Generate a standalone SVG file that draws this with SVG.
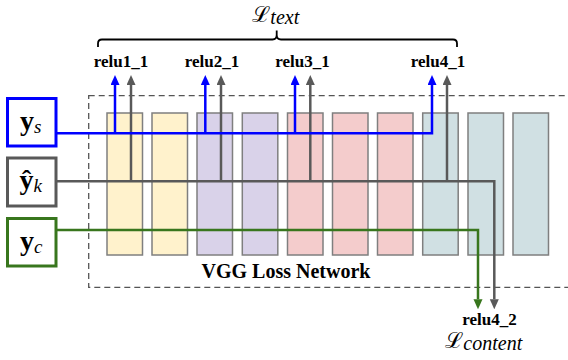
<svg xmlns="http://www.w3.org/2000/svg" width="568" height="360" viewBox="0 0 568 360">
<style>
  .blk { stroke: #7f7f7f; stroke-width: 1.5; }
  .y1 { fill: #fff2cc; } .y2 { fill: #d9d2e9; } .y3 { fill: #f4cccc; } .y4 { fill: #d0e0e3; }
  .lbl { font-family: "Liberation Serif", "Times New Roman", serif; font-weight: bold; font-size: 17px; text-anchor: middle; fill: #000; }
  .inbox { fill: #fff; stroke-width: 3; }
  .bold-y { font-family: "Liberation Serif", serif; font-weight: bold; font-size: 28px; }
  .sub { font-family: "Liberation Serif", serif; font-style: italic; font-size: 19px; }
  .cal { font-family: "DejaVu Serif", "Noto Sans", serif; font-size: 22px; }
  .calsub { font-family: "Liberation Serif", serif; font-style: italic; font-size: 20px; }
  .conn { fill: none; stroke-width: 2.5; }
</style>
<defs>
  <marker id="ab" markerUnits="userSpaceOnUse" markerWidth="10" markerHeight="10" refX="0" refY="4.5" orient="auto"><path d="M0,0 L10,4.5 L0,9 z" fill="#0000ff"/></marker>
  <marker id="ag" markerUnits="userSpaceOnUse" markerWidth="10" markerHeight="10" refX="0" refY="4.5" orient="auto"><path d="M0,0 L10,4.5 L0,9 z" fill="#595959"/></marker>
  <marker id="agr" markerUnits="userSpaceOnUse" markerWidth="10" markerHeight="10" refX="0" refY="4.5" orient="auto"><path d="M0,0 L10,4.5 L0,9 z" fill="#38761d"/></marker>
</defs>

<g id="vgg-network">
  <rect x="88.7" y="95.7" width="490" height="191.6" fill="none" stroke="#555" stroke-width="1.3" stroke-dasharray="6,4"/>
  <rect class="blk y1" x="107" y="113" width="35.5" height="142"/>
  <rect class="blk y1" x="152" y="113" width="35.5" height="142"/>
  <rect class="blk y2" x="197" y="113" width="35.5" height="142"/>
  <rect class="blk y2" x="242.3" y="113" width="35.5" height="142"/>
  <rect class="blk y3" x="287.5" y="113" width="35.5" height="142"/>
  <rect class="blk y3" x="332.5" y="113" width="35.5" height="142"/>
  <rect class="blk y3" x="377.5" y="113" width="35.5" height="142"/>
  <rect class="blk y4" x="422.7" y="113" width="35.5" height="142"/>
  <rect class="blk y4" x="468" y="113" width="35.5" height="142"/>
  <rect class="blk y4" x="513" y="113" width="35.5" height="142"/>
  <text x="286" y="278" font-family="Liberation Serif, serif" font-weight="bold" font-size="20" text-anchor="middle">VGG Loss Network</text>
</g>

<g id="connectors">
  <path class="conn" stroke="#595959" d="M56,181.3 H494.3 V299.3" marker-end="url(#ag)"/>
  <path class="conn" stroke="#595959" d="M131,181.3 V85" marker-end="url(#ag)"/>
  <path class="conn" stroke="#595959" d="M221,181.3 V85" marker-end="url(#ag)"/>
  <path class="conn" stroke="#595959" d="M310.3,181.3 V85" marker-end="url(#ag)"/>
  <path class="conn" stroke="#595959" d="M447,181.3 V85" marker-end="url(#ag)"/>
  <path class="conn" stroke="#38761d" d="M56,230 H478 V299.3" marker-end="url(#agr)"/>
  <path class="conn" stroke="#0000ff" stroke-width="3" d="M56,133.3 H432 V85" marker-end="url(#ab)"/>
  <path class="conn" stroke="#0000ff" stroke-width="3" d="M115,133.3 V85" marker-end="url(#ab)"/>
  <path class="conn" stroke="#0000ff" stroke-width="3" d="M205.3,133.3 V85" marker-end="url(#ab)"/>
  <path class="conn" stroke="#0000ff" stroke-width="3" d="M295,133.3 V85" marker-end="url(#ab)"/>
</g>

<g id="node-ys">
  <rect class="inbox" stroke="#0000ff" x="7.5" y="98.5" width="48.5" height="47.5"/>
  <text x="20" y="130"><tspan class="bold-y">y</tspan><tspan class="sub" dy="3">s</tspan></text>
</g>
<g id="node-yk">
  <rect class="inbox" stroke="#595959" x="7.5" y="158" width="48.5" height="48"/>
  <text x="19.5" y="189"><tspan class="bold-y">ŷ</tspan><tspan class="sub" dy="3">k</tspan></text>
</g>
<g id="node-yc">
  <rect class="inbox" stroke="#38761d" x="7.5" y="218.5" width="48.5" height="47.5"/>
  <text x="20" y="250"><tspan class="bold-y">y</tspan><tspan class="sub" dy="3">c</tspan></text>
</g>

<g id="labels">
  <text class="lbl" x="121" y="66.7">relu1_1</text>
  <text class="lbl" x="212" y="66.7">relu2_1</text>
  <text class="lbl" x="302.5" y="66.7">relu3_1</text>
  <text class="lbl" x="438" y="66.7">relu4_1</text>
  <text class="lbl" x="489.5" y="325">relu4_2</text>
</g>

<g id="loss-text">
  <path d="M98,47 V43.5 Q98,39.5 102,39.5 H272.5 Q276.7,39.5 276.7,35 V30.5 M276.7,35 Q276.7,39.5 281,39.5 H453 Q457,39.5 457,43.5 V47" fill="none" stroke="#000" stroke-width="1.8"/>
  <text x="252" y="22"><tspan class="cal">ℒ</tspan><tspan class="calsub" dy="2">text</tspan></text>
</g>
<g id="loss-content">
  <text x="445" y="348"><tspan class="cal">ℒ</tspan><tspan class="calsub" dy="2">content</tspan></text>
</g>
</svg>
